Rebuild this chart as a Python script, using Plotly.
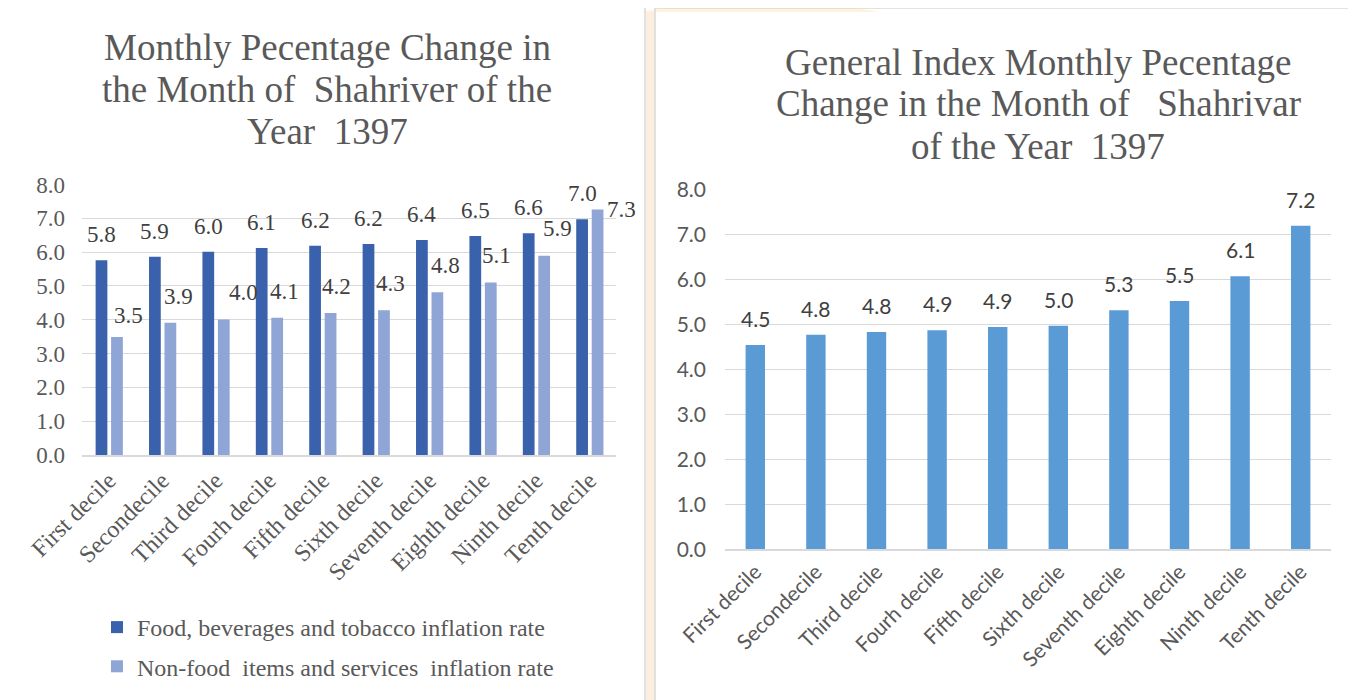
import plotly.graph_objects as go

categories = ["First decile", "Secondecile", "Third decile", "Fourh decile", "Fifth decile",
              "Sixth decile", "Seventh decile", "Eighth decile", "Ninth decile", "Tenth decile"]
food = [5.76, 5.86, 6.01, 6.12, 6.19, 6.24, 6.36, 6.48, 6.56, 6.97]
nonfood = [3.49, 3.91, 4.01, 4.06, 4.20, 4.28, 4.81, 5.10, 5.89, 7.26]
general = [4.54, 4.77, 4.83, 4.87, 4.94, 4.97, 5.31, 5.52, 6.07, 7.19]
y_ticks = [0, 1, 2, 3, 4, 5, 6, 7, 8]

# label nudges (pixels), mimicking the original label placement
nonfood_label_dx = [12, 8, 20, 7, 6, 7, 8, 6, 13, 24]
nonfood_label_dy = [7, 12, 12, 12, 12, 12, 12, 13, 13, -14]

# page is offset by the browser's default 8px body margin
OFF = 8
W, H = 1356 - OFF, 700 - OFF
SERIF = "Liberation Serif, Times New Roman, serif"
SANS = "Lato, Calibri, sans-serif"
GREY = "#595959"
DARK = "#404040"
GRID = "#D9D9D9"


def px(x):
    return (x - OFF) / W


def py(y):
    return 1 - (y - OFF) / H


fig = go.Figure()

fig.add_trace(go.Bar(
    x=categories, y=food, name="Food, beverages and tobacco inflation rate",
    marker_color="#3A62AC", marker_line_width=0, width=0.22, offset=-0.245,
    xaxis="x", yaxis="y", legendgroup="a"))
fig.add_trace(go.Bar(
    x=categories, y=nonfood, name="Non-food  items and services  inflation rate",
    marker_color="#8EA5D5", marker_line_width=0, width=0.22, offset=0.045,
    xaxis="x", yaxis="y", legendgroup="b"))
fig.add_trace(go.Bar(
    x=categories, y=general, name="General index", showlegend=False,
    marker_color="#5B9BD5", marker_line_width=0, width=0.32,
    xaxis="x2", yaxis="y2"))

# data labels
for i, (c, v) in enumerate(zip(categories, food)):
    fig.add_annotation(x=i - 0.135, y=v, xref="x", yref="y", text=f"{v:.1f}",
                       showarrow=False, yanchor="bottom", yshift=11,
                       font=dict(family=SERIF, size=23, color=DARK))
for i, (c, v) in enumerate(zip(categories, nonfood)):
    fig.add_annotation(x=i + 0.155, y=v, xref="x", yref="y", text=f"{v:.1f}",
                       showarrow=False, yanchor="bottom",
                       yshift=nonfood_label_dy[i], xshift=nonfood_label_dx[i],
                       font=dict(family=SERIF, size=23, color=DARK))
for i, (c, v) in enumerate(zip(categories, general)):
    fig.add_annotation(x=c, y=v, xref="x2", yref="y2", text=f"{v:.1f}",
                       showarrow=False, yanchor="bottom", yshift=12,
                       font=dict(family=SANS, size=21, color=DARK))

common_y = dict(range=[0, 8], tickvals=y_ticks, tickformat=".1f", showgrid=True,
                gridcolor=GRID, gridwidth=1, zeroline=False, showline=False,
                ticks="", automargin=False, fixedrange=True)

fig.update_layout(
    width=W, height=H,
    margin=dict(l=0, r=0, t=0, b=0),
    paper_bgcolor="white", plot_bgcolor="rgba(0,0,0,0)",
    barmode="overlay",
    xaxis=dict(domain=[px(82), px(616)], anchor="y", range=[-0.5, len(categories) - 0.5],
               showline=True, linecolor=GRID,
               linewidth=2, ticks="", tickangle=-45, automargin=False,
               tickfont=dict(family=SERIF, size=24, color=GREY)),
    yaxis=dict(domain=[py(455), py(184.5)], anchor="x",
               tickfont=dict(family=SERIF, size=23, color=GREY),
               ticklabelstandoff=16, **common_y),
    xaxis2=dict(domain=[px(725), px(1331)], anchor="y2", range=[-0.5, len(categories) - 0.5],
                showline=True, linecolor=GRID,
                linewidth=2, ticks="", tickangle=-45, automargin=False,
                tickfont=dict(family=SANS, size=21, color=GREY)),
    yaxis2=dict(domain=[py(549.3), py(189.3)], anchor="x2",
                tickfont=dict(family=SANS, size=21, color=GREY),
                ticklabelstandoff=18, **common_y),
    legend=dict(x=px(97), y=py(605), xanchor="left", yanchor="top",
                orientation="v", tracegroupgap=5,
                font=dict(family=SERIF, size=24, color=GREY),
                bgcolor="rgba(0,0,0,0)"),
    showlegend=True,
)

left_title = ["Monthly Pecentage Change in", "the Month of  Shahriver of the", "Year  1397"]
right_title = ["General Index Monthly Pecentage", "Change in the Month of   Shahrivar",
               "of the Year  1397"]
for k, line in enumerate(left_title):
    fig.add_annotation(text=line, xref="paper", yref="paper", x=px(327), y=py(48 + 42 * k),
                       xanchor="center", yanchor="middle", showarrow=False,
                       font=dict(family=SERIF, size=37, color=GREY))
for k, line in enumerate(right_title):
    fig.add_annotation(text=line, xref="paper", yref="paper", x=px(1038), y=py(62 + 42 * k),
                       xanchor="center", yanchor="middle", showarrow=False,
                       font=dict(family=SERIF, size=37, color=GREY))

# background decoration and panel borders
fig.add_shape(type="rect", xref="paper", yref="paper", x0=px(646), x1=px(655), y0=py(705), y1=py(12),
              fillcolor="#FDEFDF", line=dict(width=0), layer="below")
fig.add_shape(type="path", xref="paper", yref="paper",
              path=f"M {px(640)},{py(12)} Q {px(760)},{py(-8)} {px(880)},{py(12)} Z",
              fillcolor="#FEF3DC", line=dict(width=0), layer="below")
fig.add_shape(type="rect", xref="paper", yref="paper", x0=px(7), x1=px(645), y0=py(705), y1=py(4),
              fillcolor="rgba(0,0,0,0)", line=dict(color=GRID, width=1.5), layer="below")
fig.add_shape(type="rect", xref="paper", yref="paper", x0=px(655), x1=px(1362), y0=py(705), y1=py(8),
              fillcolor="rgba(0,0,0,0)", line=dict(color=GRID, width=1.5), layer="below")

fig.write_html("out.html")
